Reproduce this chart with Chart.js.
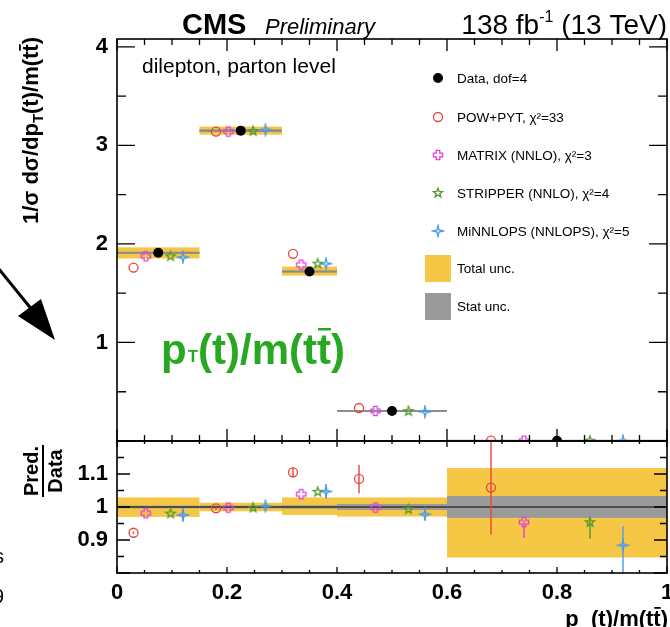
<!DOCTYPE html>
<html>
<head>
<meta charset="utf-8">
<script src="https://cdn.jsdelivr.net/npm/chart.js@4.4.0/dist/chart.umd.min.js"></script>
<style>
  html, body { margin: 0; padding: 0; background: #fff; }
  #wrap { position: relative; width: 670px; height: 627px; overflow: hidden; }
  #mainCanvas { position: absolute; left: 0; top: 0; }
  #ratioCanvas { position: absolute; left: 0; top: 400px; }
</style>
</head>
<body>
<div id="wrap">
  <canvas id="mainCanvas" width="670" height="442"></canvas>
  <canvas id="ratioCanvas" width="670" height="227"></canvas>
</div>
<script>
// bins of pT(t)/m(tt)
const binEdges = [0, 0.15, 0.3, 0.4, 0.6, 1.0];

// normalised cross section, data
const dataValues = [1.91, 3.15, 1.72, 0.305, 0.003];
// relative uncertainties of the data
const totalUp   = [0.029, 0.013, 0.029, 0.029, 0.118];
const totalDown = [0.030, 0.013, 0.024, 0.029, 0.153];
const statUnc   = [0.004, 0.004, 0.005, 0.009, 0.033];

// predictions, main panel
const powValues      = [1.76, 3.14, 1.90, 0.335, 0.003];
const matrixValues   = [1.875, 3.14, 1.79, 0.305, 0.003];
const stripperValues = [1.875, 3.145, 1.80, 0.303, 0.003];
const minnlopsValues = [1.865, 3.16, 1.80, 0.298, 0.003];

// predictions / data
const powRatio      = [0.922, 0.996, 1.105, 1.085, 1.059];
const matrixRatio   = [0.981, 0.998, 1.039, 0.998, 0.954];
const stripperRatio = [0.980, 0.998, 1.046, 0.993, 0.954];
const minnlopsRatio = [0.976, 1.003, 1.047, 0.978, 0.884];

// error bars on the ratios
const powErrUp        = [0.004, 0.004, 0.015, 0.043, 0.16];
const powErrDown      = [0.004, 0.004, 0.015, 0.043, 0.142];
const matrixErrUp     = [0, 0, 0, 0, 0.005];
const matrixErrDown   = [0, 0, 0, 0, 0.048];
const stripperErrUp   = [0, 0, 0, 0, 0.005];
const stripperErrDown = [0, 0, 0, 0, 0.05];
const minnlopsErrUp   = [0.02, 0.01, 0.022, 0.018, 0.058];
const minnlopsErrDown = [0.02, 0.01, 0.022, 0.018, 0.1];

// tick labels
const mainYTicks = [1, 2, 3, 4];
const ratioYTicks = [0.9, 1, 1.1];
const xTicks = [0, 0.2, 0.4, 0.6, 0.8, 1];

const legendLabels = ['Data, dof=4', 'POW+PYT, \u03c7\u00b2=33', 'MATRIX (NNLO), \u03c7\u00b2=3',
  'STRIPPER (NNLO), \u03c7\u00b2=4', 'MiNNLOPS (NNLOPS), \u03c7\u00b2=5'];

const FONT = '"Liberation Sans", Arial, Helvetica, sans-serif';
const YELLOW = '#f6c744';
const GRAY = '#9a9a9a';

// little offscreen canvases used as point styles
function markerImage(kind, color) {
  const size = 14, m = size / 2;
  const c = document.createElement('canvas');
  c.width = size; c.height = size;
  const g = c.getContext('2d');
  g.strokeStyle = color;
  g.lineWidth = 1.3;
  g.beginPath();
  if (kind === 'plus') {
    const a = 1.8, b = 4.6;
    const pts = [[-a,-b],[a,-b],[a,-a],[b,-a],[b,a],[a,a],[a,b],[-a,b],[-a,a],[-b,a],[-b,-a],[-a,-a]];
    pts.forEach((p, i) => i ? g.lineTo(m + p[0], m + p[1]) : g.moveTo(m + p[0], m + p[1]));
  } else {
    const n = kind === 'star5' ? 5 : 4;
    const ro = kind === 'star5' ? 4.8 : 5.6;
    const ri = kind === 'star5' ? 2.0 : 1.4;
    for (let k = 0; k < 2 * n; k++) {
      const r = k % 2 ? ri : ro;
      const ang = -Math.PI / 2 + k * Math.PI / n;
      const px = m + r * Math.cos(ang), py = m + r * Math.sin(ang);
      k ? g.lineTo(px, py) : g.moveTo(px, py);
    }
  }
  g.closePath();
  g.stroke();
  return c;
}

const models = [
  { color: '#e8453c', frac: 0.2, main: powValues, ratio: powRatio, up: powErrUp, down: powErrDown, style: 'circle' },
  { color: '#e040e0', frac: 0.35, main: matrixValues, ratio: matrixRatio, up: matrixErrUp, down: matrixErrDown, style: markerImage('plus', '#e040e0') },
  { color: '#4f9a2c', frac: 0.65, main: stripperValues, ratio: stripperRatio, up: stripperErrUp, down: stripperErrDown, style: markerImage('star5', '#4f9a2c') },
  { color: '#4d9de6', frac: 0.8, main: minnlopsValues, ratio: minnlopsRatio, up: minnlopsErrUp, down: minnlopsErrDown, style: markerImage('star4', '#4d9de6') }
];

function binPos(frac) {
  return binEdges.slice(0, -1).map((lo, i) => lo + frac * (binEdges[i + 1] - lo));
}

function modelDataset(mod, values) {
  const xs = binPos(mod.frac);
  return {
    data: values.map((v, i) => ({ x: xs[i], y: v })),
    showLine: false,
    pointStyle: mod.style,
    pointRadius: 4.5,
    pointBorderWidth: 1.3,
    pointBorderColor: mod.color,
    pointBackgroundColor: 'rgba(0,0,0,0)'
  };
}

// ROOT style frame with inward ticks
function drawFrame(chart, t) {
  const { ctx, chartArea: a, scales: { x, y } } = chart;
  ctx.save();
  ctx.strokeStyle = '#000';
  ctx.lineWidth = 1.3;
  ctx.beginPath();
  const nx = Math.round((x.max - x.min) / t.xMinor);
  for (let k = 0; k <= nx; k++) {
    const px = x.getPixelForValue(x.min + k * t.xMinor);
    const major = k % t.xEvery === 0;
    const lb = major ? t.xMajorB : t.xMinorB;
    const lt = major ? t.xMajorT : t.xMinorT;
    ctx.moveTo(px, a.bottom); ctx.lineTo(px, a.bottom - lb);
    ctx.moveTo(px, a.top); ctx.lineTo(px, a.top + lt);
  }
  const ny = Math.floor((y.max - t.yStart) / t.yMinor + 1e-6);
  for (let k = 0; k <= ny; k++) {
    const py = y.getPixelForValue(t.yStart + k * t.yMinor);
    const len = k % t.yEvery === 0 ? t.yMajor : t.yMinorLen;
    ctx.moveTo(a.left, py); ctx.lineTo(a.left + len, py);
    ctx.moveTo(a.right, py); ctx.lineTo(a.right - len, py);
  }
  ctx.stroke();
  ctx.lineWidth = 1.6;
  ctx.strokeRect(a.left, a.top, a.right - a.left, a.bottom - a.top);
  ctx.restore();
}

function drawBands(chart, scaleOf) {
  const { ctx, chartArea: a, scales: { x, y } } = chart;
  for (let i = 0; i < dataValues.length; i++) {
    const x0 = x.getPixelForValue(binEdges[i]), x1 = x.getPixelForValue(binEdges[i + 1]);
    const c = scaleOf(i);
    const yt = y.getPixelForValue(c * (1 + totalUp[i])), yb = y.getPixelForValue(c * (1 - totalDown[i]));
    ctx.fillStyle = YELLOW;
    ctx.fillRect(x0, yt, x1 - x0, yb - yt);
    const st = y.getPixelForValue(c * (1 + statUnc[i])), sb = y.getPixelForValue(c * (1 - statUnc[i]));
    ctx.fillStyle = GRAY;
    ctx.fillRect(x0, st, x1 - x0, sb - st);
  }
}

const mainDecor = {
  id: 'mainDecor',
  beforeDatasetsDraw(chart) {
    const { ctx, chartArea: a, scales: { x, y } } = chart;
    ctx.save();
    ctx.beginPath();
    ctx.rect(a.left, a.top, a.right - a.left, a.bottom - a.top);
    ctx.clip();
    drawBands(chart, i => dataValues[i]);
    ctx.strokeStyle = '#8c8c8c';
    ctx.lineWidth = 2;
    ctx.beginPath();
    for (let i = 0; i < dataValues.length; i++) {
      const py = y.getPixelForValue(dataValues[i]);
      ctx.moveTo(x.getPixelForValue(binEdges[i]), py);
      ctx.lineTo(x.getPixelForValue(binEdges[i + 1]), py);
    }
    ctx.stroke();
    ctx.restore();
  },
  afterDraw(chart) {
    const ctx = chart.ctx;
    drawFrame(chart, { xMinor: 0.05, xEvery: 4, xMajorB: 12, xMinorB: 6, xMajorT: 12, xMinorT: 6,
      yStart: 0, yMinor: 0.5, yEvery: 2, yMajor: 18, yMinorLen: 9 });

    ctx.save();
    ctx.fillStyle = '#000';
    ctx.textBaseline = 'alphabetic';
    // header
    ctx.font = 'bold 29px ' + FONT;
    ctx.fillText('CMS', 182, 34);
    ctx.font = 'italic 22px ' + FONT;
    ctx.fillText('Preliminary', 265, 34);
    ctx.font = '28px ' + FONT;
    const w1 = ctx.measureText('138 fb').width, w3 = ctx.measureText(' (13 TeV)').width;
    ctx.font = '16px ' + FONT;
    const w2 = ctx.measureText('-1').width;
    let hx = 667 - w1 - w2 - w3;
    ctx.font = '28px ' + FONT;
    ctx.fillText('138 fb', hx, 34);
    ctx.font = '16px ' + FONT;
    ctx.fillText('-1', hx + w1, 22);
    ctx.font = '28px ' + FONT;
    ctx.fillText(' (13 TeV)', hx + w1 + w2, 34);

    // y axis title, aligned to the top end
    ctx.save();
    ctx.translate(38, 37);
    ctx.rotate(-Math.PI / 2);
    ctx.font = 'bold 22px ' + FONT;
    const p1 = '1/\u03c3 d\u03c3/dp', p3a = '(t)/m(t', p3b = 't)';
    const wp1 = ctx.measureText(p1).width, wp3a = ctx.measureText(p3a).width, wp3b = ctx.measureText(p3b).width;
    ctx.font = 'bold 15px ' + FONT;
    const wp2 = ctx.measureText('T').width;
    let tx = -(wp1 + wp2 + wp3a + wp3b);
    ctx.font = 'bold 22px ' + FONT;
    ctx.fillText(p1, tx, 0);
    ctx.font = 'bold 15px ' + FONT;
    ctx.fillText('T', tx + wp1, 5);
    ctx.font = 'bold 22px ' + FONT;
    ctx.fillText(p3a + p3b, tx + wp1 + wp2, 0);
    const ot = tx + wp1 + wp2 + wp3a, otw = ctx.measureText('t').width;
    ctx.fillRect(ot + 1, -19, otw - 1, 1.8);
    ctx.restore();

    // panel text
    ctx.font = '21px ' + FONT;
    ctx.fillText('dilepton, parton level', 142, 73);

    // legend
    const rows = [78, 117, 155, 193, 231];
    const mx = 438;
    ctx.font = '13.5px ' + FONT;
    legendLabels.forEach((lab, i) => ctx.fillText(lab, 457, rows[i] + 5));
    ctx.beginPath();
    ctx.arc(mx, rows[0], 5, 0, 2 * Math.PI);
    ctx.fill();
    ctx.strokeStyle = models[0].color;
    ctx.lineWidth = 1.3;
    ctx.beginPath();
    ctx.arc(mx, rows[1], 4.5, 0, 2 * Math.PI);
    ctx.stroke();
    for (let k = 1; k < 4; k++) ctx.drawImage(models[k].style, mx - 7, rows[k + 1] - 7);
    ctx.fillStyle = YELLOW;
    ctx.fillRect(425, 255, 26, 27);
    ctx.fillStyle = GRAY;
    ctx.fillRect(425, 293, 26, 27);
    ctx.fillStyle = '#000';
    ctx.fillText('Total unc.', 457, 273);
    ctx.fillText('Stat unc.', 457, 311);

    // big green label
    ctx.fillStyle = '#27a822';
    let gx = 161;
    const gy = 364;
    ctx.font = 'bold 42px ' + FONT;
    ctx.fillText('p', gx, gy);
    gx += ctx.measureText('p').width;
    ctx.font = 'bold 17px ' + FONT;
    ctx.fillText('T', gx + 1, gy - 2);
    gx += ctx.measureText('T').width + 1;
    ctx.font = 'bold 42px ' + FONT;
    ctx.fillText('(t)/m(tt)', gx, gy);
    const gox = gx + ctx.measureText('(t)/m(t').width, gow = ctx.measureText('t').width;
    ctx.fillRect(gox + 1, gy - 36, gow - 1, 2.5);

    // arrow
    ctx.strokeStyle = '#000';
    ctx.fillStyle = '#000';
    ctx.lineWidth = 3;
    ctx.beginPath();
    ctx.moveTo(-2, 268);
    ctx.lineTo(33, 311);
    ctx.stroke();
    ctx.beginPath();
    ctx.moveTo(18, 316);
    ctx.lineTo(41, 299);
    ctx.lineTo(55, 340);
    ctx.closePath();
    ctx.fill();
    ctx.restore();
  }
};

const ratioDecor = {
  id: 'ratioDecor',
  beforeDatasetsDraw(chart) {
    const { ctx, chartArea: a, scales: { x, y } } = chart;
    ctx.save();
    ctx.beginPath();
    ctx.rect(a.left, a.top, a.right - a.left, a.bottom - a.top);
    ctx.clip();
    drawBands(chart, () => 1);
    ctx.strokeStyle = '#4d4d4d';
    ctx.lineWidth = 2;
    ctx.beginPath();
    ctx.moveTo(a.left, y.getPixelForValue(1));
    ctx.lineTo(a.right, y.getPixelForValue(1));
    ctx.stroke();
    // error bars of the predictions
    ctx.lineWidth = 1.4;
    models.forEach(mod => {
      const xs = binPos(mod.frac);
      ctx.strokeStyle = mod.color;
      ctx.beginPath();
      mod.ratio.forEach((r, i) => {
        const px = x.getPixelForValue(xs[i]);
        ctx.moveTo(px, y.getPixelForValue(r + mod.up[i]));
        ctx.lineTo(px, y.getPixelForValue(r - mod.down[i]));
      });
      ctx.stroke();
    });
    ctx.restore();
  },
  afterDraw(chart) {
    const ctx = chart.ctx;
    drawFrame(chart, { xMinor: 0.05, xEvery: 4, xMajorB: 6, xMinorB: 3, xMajorT: 6, xMinorT: 3,
      yStart: 0.8, yMinor: 0.05, yEvery: 2, yMajor: 13, yMinorLen: 7 });
    ctx.save();
    ctx.fillStyle = '#000';
    // Pred./Data
    ctx.save();
    ctx.translate(43, 71);
    ctx.rotate(-Math.PI / 2);
    ctx.font = 'bold 20px ' + FONT;
    ctx.textAlign = 'center';
    ctx.fillText('Pred.', 0, -5);
    ctx.fillText('Data', 0, 19);
    ctx.fillRect(-26, -1, 52, 2);
    ctx.restore();
    // x axis title
    ctx.font = 'bold 22px ' + FONT;
    const xa = 'p_(t)/m(t', xb = 't)';
    const wa = ctx.measureText(xa).width, wb = ctx.measureText(xb).width;
    const sx = 668 - wa - wb;
    ctx.fillText(xa + xb, sx, 226);
    ctx.fillRect(sx + wa + 1, 226 - 19, ctx.measureText('t').width - 1, 1.8);
    // bits of text cut by the left edge
    ctx.font = '20px ' + FONT;
    ctx.fillText('s', -6, 163);
    ctx.fillText('9', -7, 203);
    ctx.restore();
  }
};

const tickFont = { family: FONT, size: 22, weight: 'bold' };

new Chart(document.getElementById('mainCanvas'), {
  type: 'scatter',
  data: {
    datasets: [
      ...models.map(m => modelDataset(m, m.main)),
      {
        data: binPos(0.5).map((x, i) => ({ x: x, y: dataValues[i] })),
        showLine: false,
        pointStyle: 'circle',
        pointRadius: 5,
        pointBorderWidth: 0,
        pointBackgroundColor: '#000'
      }
    ]
  },
  options: {
    responsive: false,
    animation: false,
    devicePixelRatio: 1,
    layout: { autoPadding: false, padding: { top: 39, right: 3, bottom: 1, left: 0 } },
    plugins: { legend: { display: false }, tooltip: { enabled: false } },
    scales: {
      x: { type: 'linear', min: 0, max: 1, display: false },
      y: {
        type: 'linear', min: 0, max: 4.08,
        grid: { display: false, drawTicks: false },
        border: { display: false },
        ticks: { font: tickFont, color: '#000', padding: 9 },
        afterBuildTicks: s => { s.ticks = mainYTicks.map(v => ({ value: v })); },
        afterFit: s => { s.width = 117; s.paddingTop = 0; s.paddingBottom = 0; }
      }
    }
  },
  plugins: [mainDecor]
});

new Chart(document.getElementById('ratioCanvas'), {
  type: 'scatter',
  data: { datasets: models.map(m => modelDataset(m, m.ratio)) },
  options: {
    responsive: false,
    animation: false,
    devicePixelRatio: 1,
    layout: { autoPadding: false, padding: { top: 41, right: 3, bottom: 0, left: 0 } },
    plugins: { legend: { display: false }, tooltip: { enabled: false } },
    scales: {
      x: {
        type: 'linear', min: 0, max: 1,
        grid: { display: false, drawTicks: false },
        border: { display: false },
        ticks: { font: tickFont, color: '#000', padding: 7, maxRotation: 0, autoSkip: false,
                 callback: v => String(+v.toFixed(2)) },
        afterBuildTicks: s => { s.ticks = xTicks.map(v => ({ value: v })); },
        afterFit: s => { s.height = 54; s.paddingLeft = 0; s.paddingRight = 0; }
      },
      y: {
        type: 'linear', min: 0.8, max: 1.2,
        grid: { display: false, drawTicks: false },
        border: { display: false },
        ticks: { font: tickFont, color: '#000', padding: 9, callback: v => String(+v.toFixed(2)) },
        afterBuildTicks: s => { s.ticks = ratioYTicks.map(v => ({ value: v })); },
        afterFit: s => { s.width = 117; s.paddingTop = 0; s.paddingBottom = 0; }
      }
    }
  },
  plugins: [ratioDecor]
});
</script>
</body>
</html>
